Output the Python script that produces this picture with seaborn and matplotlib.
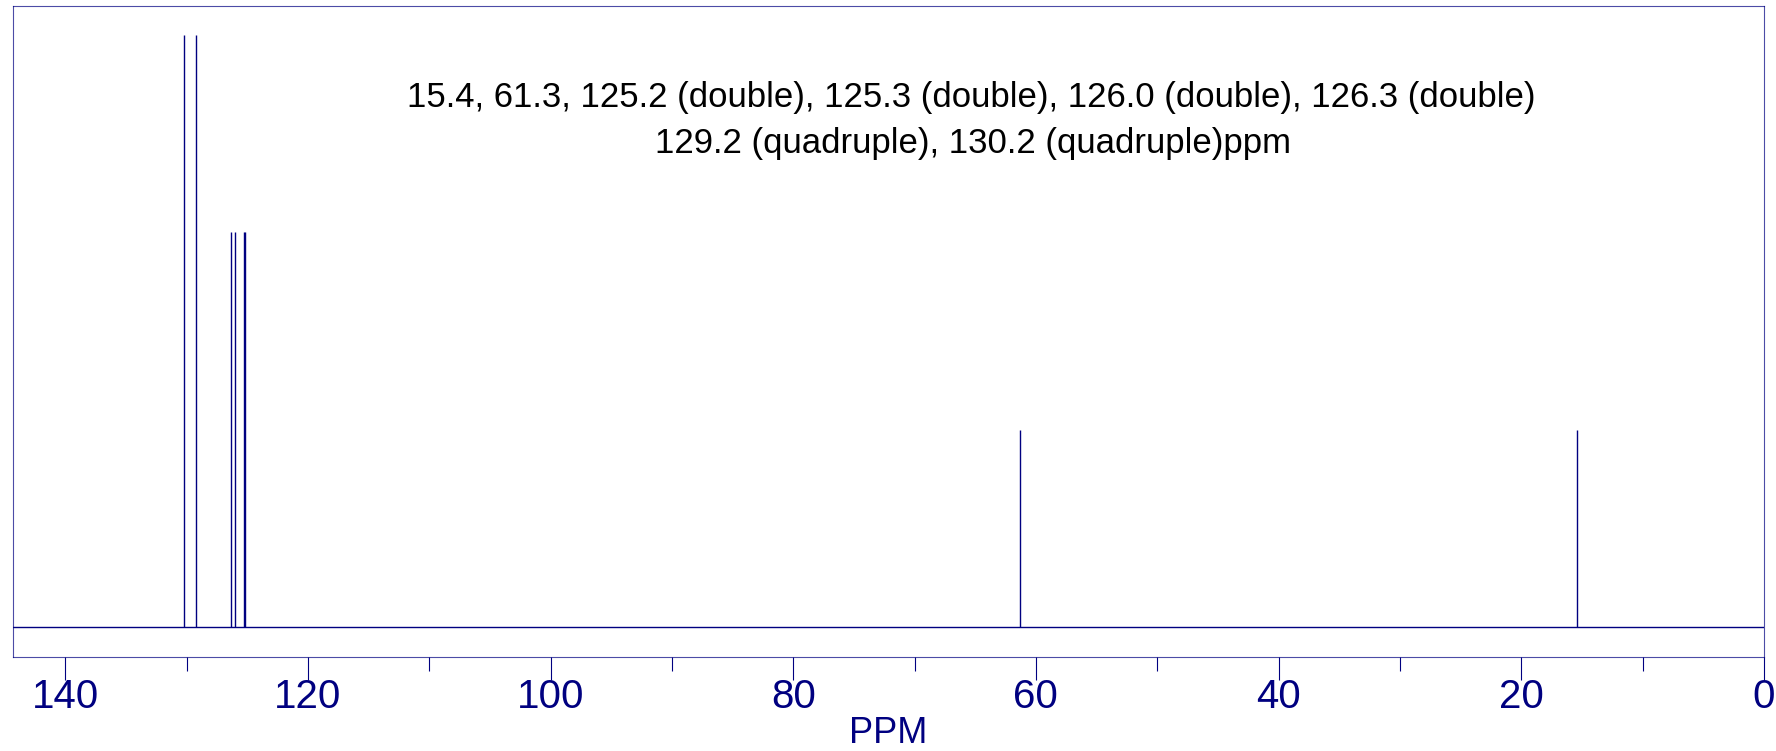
import numpy as np
import pandas as pd
import matplotlib
matplotlib.use('Agg')
import matplotlib.pyplot as plt
from matplotlib.ticker import MultipleLocator
import seaborn as sns

# 13C NMR peak list (ppm) and relative stick heights
shifts = [15.4, 61.3, 125.2, 125.3, 126.0, 126.3, 129.2, 130.2]
heights = [1, 1, 2, 2, 2, 2, 3, 3]
major_ticks = [0, 20, 40, 60, 80, 100, 120, 140]
annotation = ["15.4, 61.3, 125.2 (double), 125.3 (double), 126.0 (double), 126.3 (double)",
              "129.2 (quadruple), 130.2 (quadruple)ppm"]

sns.set_style('white')
plt.rcParams['font.family'] = ['Liberation Sans', 'DejaVu Sans']

navy = '#000080'
df = pd.DataFrame({'ppm': shifts, 'height': heights})

fig = plt.figure(figsize=(17.76, 7.51), dpi=100)
ax = fig.add_axes([0.00732, 0.12517, 0.98592, 0.86684])

ax.axhline(0, color=navy, linewidth=1.0)
ax.vlines(df['ppm'], 0, df['height'], color=navy, linewidth=1.0)

ax.set_xlim(144.3, 0)
ax.set_ylim(-0.1504, 3.147)
ax.set_yticks([])
ax.set_xticks(major_ticks)
ax.xaxis.set_minor_locator(MultipleLocator(10))
ax.tick_params(axis='x', which='major', direction='out', length=16.5, width=0.8,
               color=navy, labelcolor=navy, labelsize=29, pad=-1.5, bottom=True)
ax.tick_params(axis='x', which='minor', direction='out', length=10, width=0.8,
               color=navy, bottom=True)
for s in ax.spines.values():
    s.set_color(navy)
    s.set_linewidth(0.8)
    s.set_alpha(0.7)

ax.set_xlabel('PPM', fontsize=26, color=navy, va='baseline')
ax.xaxis.set_label_coords(0.5, -0.1315)

fig.text(0.547, 0.8579, annotation[0], ha='center', va='baseline', fontsize=25, color='black')
fig.text(0.548, 0.7958, annotation[1], ha='center', va='baseline', fontsize=25, color='black')

fig.savefig('out.png', dpi=100, facecolor='white')
